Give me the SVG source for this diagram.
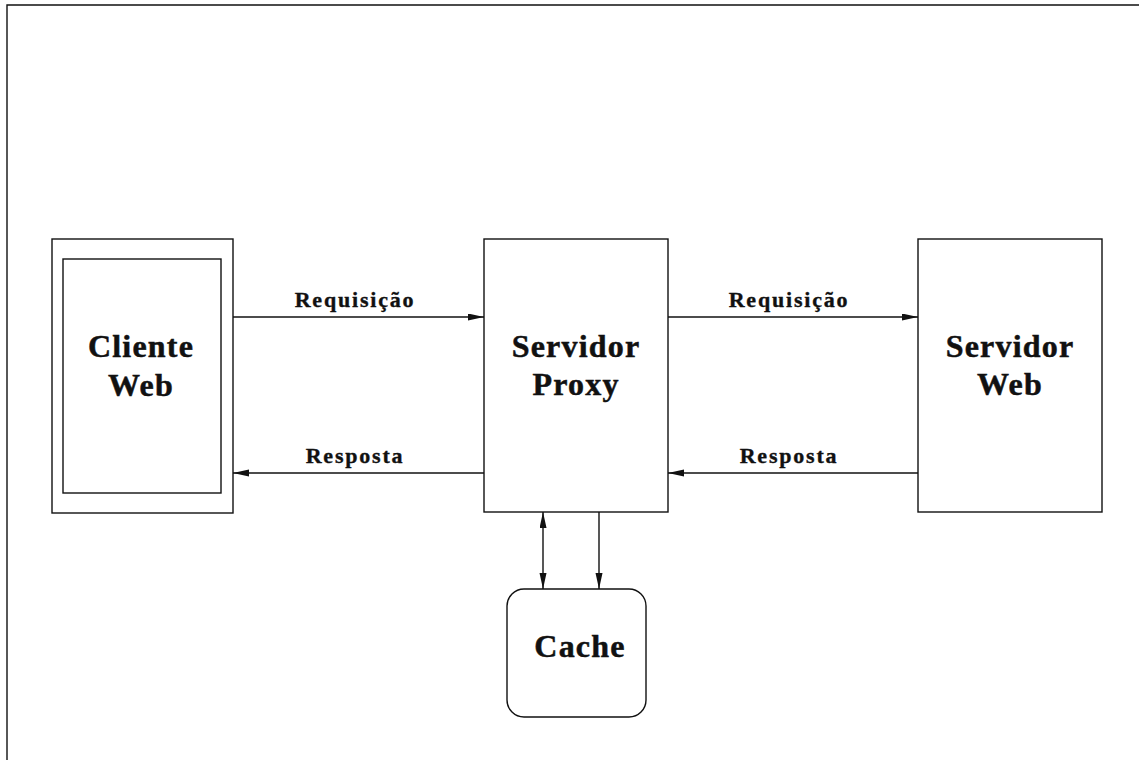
<svg xmlns="http://www.w3.org/2000/svg" width="1139" height="761" viewBox="0 0 1139 761">
  <style>
    .box { fill: #ffffff; stroke: #111111; stroke-width: 1.4; }
    .frame { fill: none; stroke: #111111; stroke-width: 1.4; }
    .link { fill: none; stroke: #111111; stroke-width: 1.4; }
    .title { font-family: "Liberation Serif", "Times New Roman", serif; font-weight: bold; font-size: 32px; letter-spacing: 1.2px; fill: #111111; stroke: #111111; stroke-width: 0.5; text-anchor: middle; }
    .label { font-family: "Liberation Serif", "Times New Roman", serif; font-weight: bold; font-size: 22px; letter-spacing: 1.8px; fill: #111111; stroke: #111111; stroke-width: 0.35; text-anchor: middle; }
  </style>
  <defs>
    <marker id="head" markerUnits="userSpaceOnUse" markerWidth="17" markerHeight="8" refX="16" refY="3.5" orient="auto-start-reverse">
      <path d="M0,0 L16,3.5 L0,7 z" fill="#111111"/>
    </marker>
  </defs>

  <rect width="1139" height="761" fill="#ffffff"/>

  <!-- page frame: top and left edges only -->
  <path class="frame" d="M7,760 L7,5 L1139,5"/>

  <!-- Web client (double-bordered box) -->
  <g id="cliente-web">
    <rect class="box" x="52" y="239" width="181" height="274"/>
    <rect class="box" x="63" y="259" width="158" height="234"/>
    <text class="title" x="141" y="357">Cliente</text>
    <text class="title" x="141" y="396">Web</text>
  </g>

  <!-- Proxy server -->
  <g id="servidor-proxy">
    <rect class="box" x="484" y="239" width="184" height="273"/>
    <text class="title" x="576" y="357">Servidor</text>
    <text class="title" x="576" y="395">Proxy</text>
  </g>

  <!-- Origin web server -->
  <g id="servidor-web">
    <rect class="box" x="918" y="239" width="184" height="273"/>
    <text class="title" x="1010" y="357">Servidor</text>
    <text class="title" x="1010" y="395">Web</text>
  </g>

  <!-- Cache store -->
  <g id="cache">
    <rect class="box" x="507" y="589" width="139" height="128" rx="17" ry="17"/>
    <text class="title" x="580" y="657">Cache</text>
  </g>

  <!-- Connectors -->
  <g id="connectors">
    <line class="link" x1="233" y1="317" x2="484" y2="317" marker-end="url(#head)"/>
    <line class="link" x1="484" y1="473" x2="233" y2="473" marker-end="url(#head)"/>
    <line class="link" x1="668" y1="317" x2="918" y2="317" marker-end="url(#head)"/>
    <line class="link" x1="918" y1="473" x2="668" y2="473" marker-end="url(#head)"/>
    <line class="link" x1="543" y1="512" x2="543" y2="589" marker-start="url(#head)" marker-end="url(#head)"/>
    <line class="link" x1="599" y1="512" x2="599" y2="589" marker-end="url(#head)"/>
    <text class="label" x="355" y="307">Requisição</text>
    <text class="label" x="355" y="463">Resposta</text>
    <text class="label" x="789" y="307">Requisição</text>
    <text class="label" x="789" y="463">Resposta</text>
  </g>
</svg>
